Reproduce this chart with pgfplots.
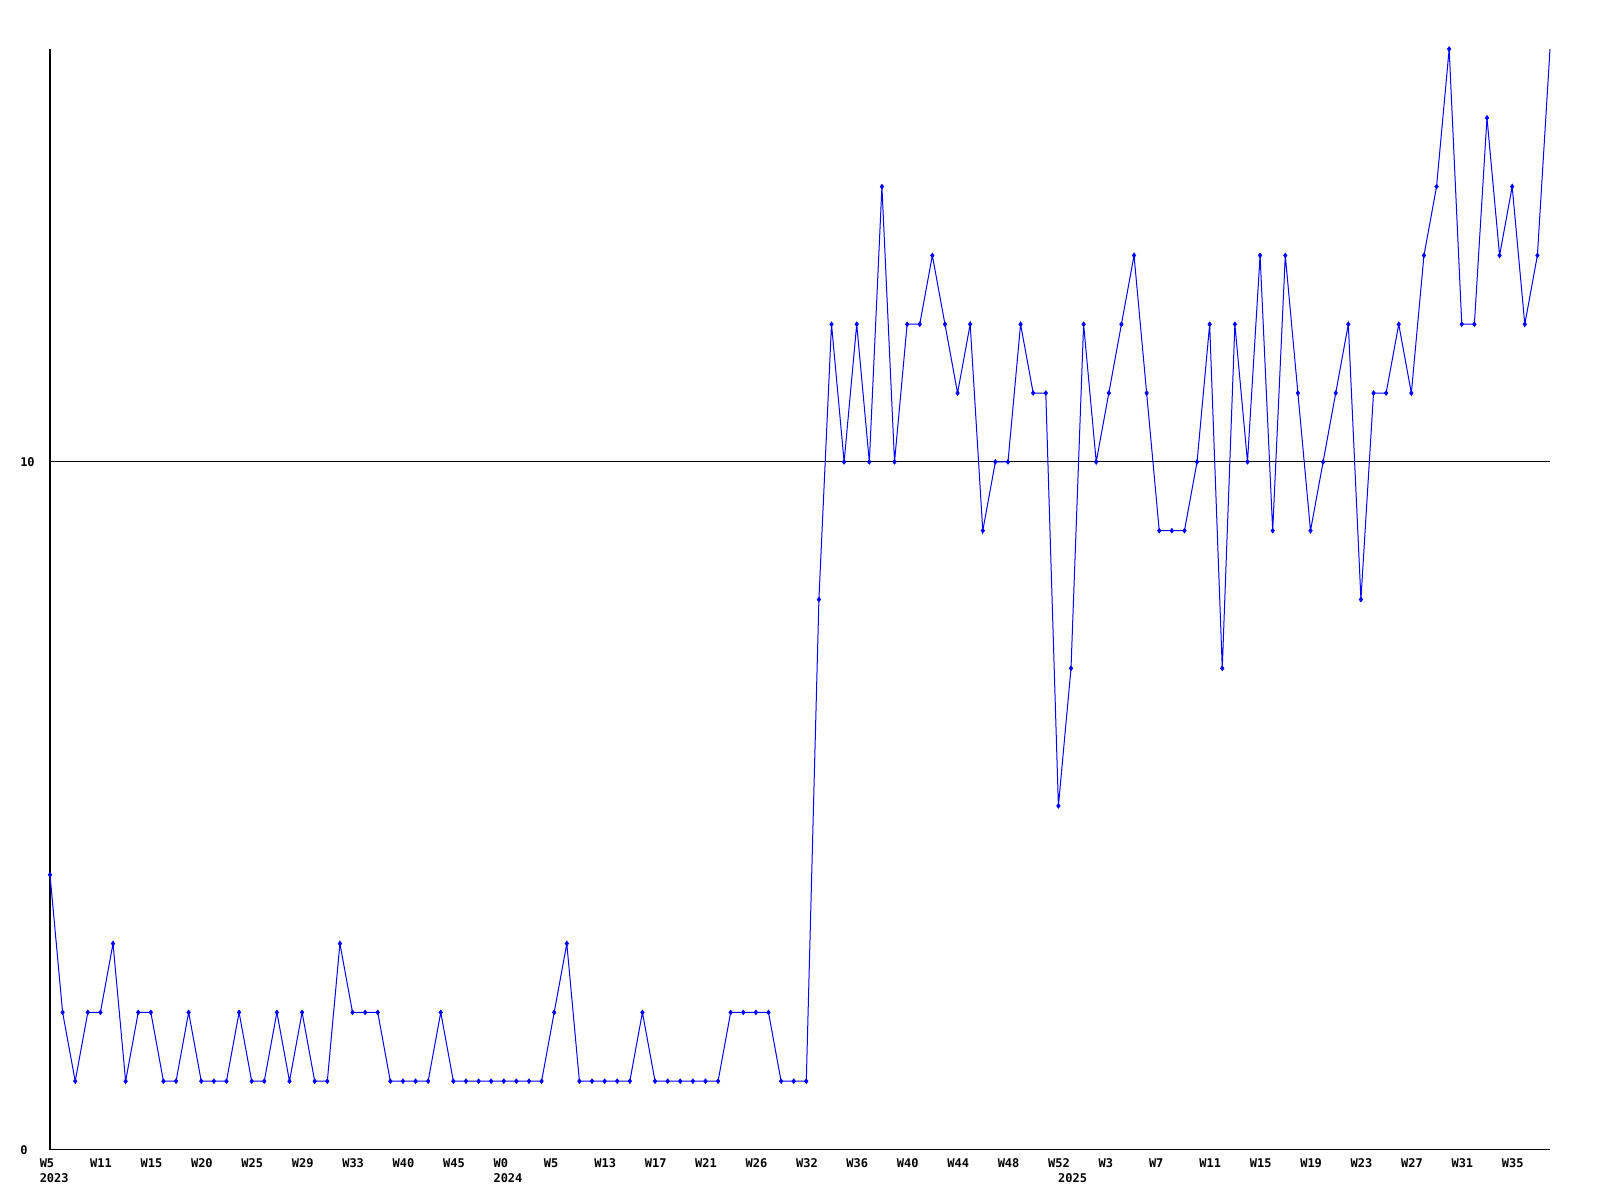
\documentclass[border=0pt]{standalone}
\usepackage{pgfplots}
\pgfplotsset{compat=1.18}
\usepackage{fontspec}
\newfontfamily\gdfont{DejaVu Sans Mono}
\pgfplotstableread{
i v
0 4
1 2
2 1
3 2
4 2
5 3
6 1
7 2
8 2
9 1
10 1
11 2
12 1
13 1
14 1
15 2
16 1
17 1
18 2
19 1
20 2
21 1
22 1
23 3
24 2
25 2
26 2
27 1
28 1
29 1
30 1
31 2
32 1
33 1
34 1
35 1
36 1
37 1
38 1
39 1
40 2
41 3
42 1
43 1
44 1
45 1
46 1
47 2
48 1
49 1
50 1
51 1
52 1
53 1
54 2
55 2
56 2
57 2
58 1
59 1
60 1
61 8
62 12
63 10
64 12
65 10
66 14
67 10
68 12
69 12
70 13
71 12
72 11
73 12
74 9
75 10
76 10
77 12
78 11
79 11
80 5
81 7
82 12
83 10
84 11
85 12
86 13
87 11
88 9
89 9
90 9
91 10
92 12
93 7
94 12
95 10
96 13
97 9
98 13
99 11
100 9
101 10
102 11
103 12
104 8
105 11
106 11
107 12
108 11
109 13
110 14
111 16
112 12
113 12
114 15
115 13
116 14
117 12
118 13
119 16
}\datatable
\begin{document}
\begin{tikzpicture}
\useasboundingbox (0,0) rectangle (1200pt,900pt);
\begin{axis}[
  at={(37.5pt,37.5pt)}, anchor=south west,
  scale only axis, width=1125pt, height=825.75pt,
  xmin=0, xmax=119, ymin=0, ymax=16,
  axis lines*=left,
  axis line style={black, line width=0.75pt},
  major tick length=0pt,
  xtick={0,4,...,116},
  xticklabels={{W5\\2023},W11,W15,W20,W25,W29,W33,W40,W45,{W0\\2024},W5,W13,W17,W21,W26,W32,W36,W40,W44,W48,{W52\\\hspace*{7.5pt}2025},W3,W7,W11,W15,W19,W23,W27,W31,W35},
  ytick={0,10},
  ymajorgrids, major grid style={black, line width=0.75pt},
  tick label style={font=\gdfont\bfseries\fontsize{9}{11.25}\selectfont, inner sep=0pt},
  xticklabel style={anchor=north west, align=left, xshift=-7.875pt, yshift=-6pt},
  yticklabel style={anchor=west, xshift=-22.5pt},
  /pgf/number format/assume math mode=true,
  clip=false,
]
\addplot[color={rgb,255:red,0;green,0;blue,255}, line width=0.75pt, no markers] table[x=i,y=v] {\datatable};
\addplot[color={rgb,255:red,0;green,0;blue,255}, only marks, mark=diamond*, mark size=1.8pt, mark options={solid}, restrict x to domain=0:118] table[x=i,y=v] {\datatable};
\end{axis}
\end{tikzpicture}
\end{document}
